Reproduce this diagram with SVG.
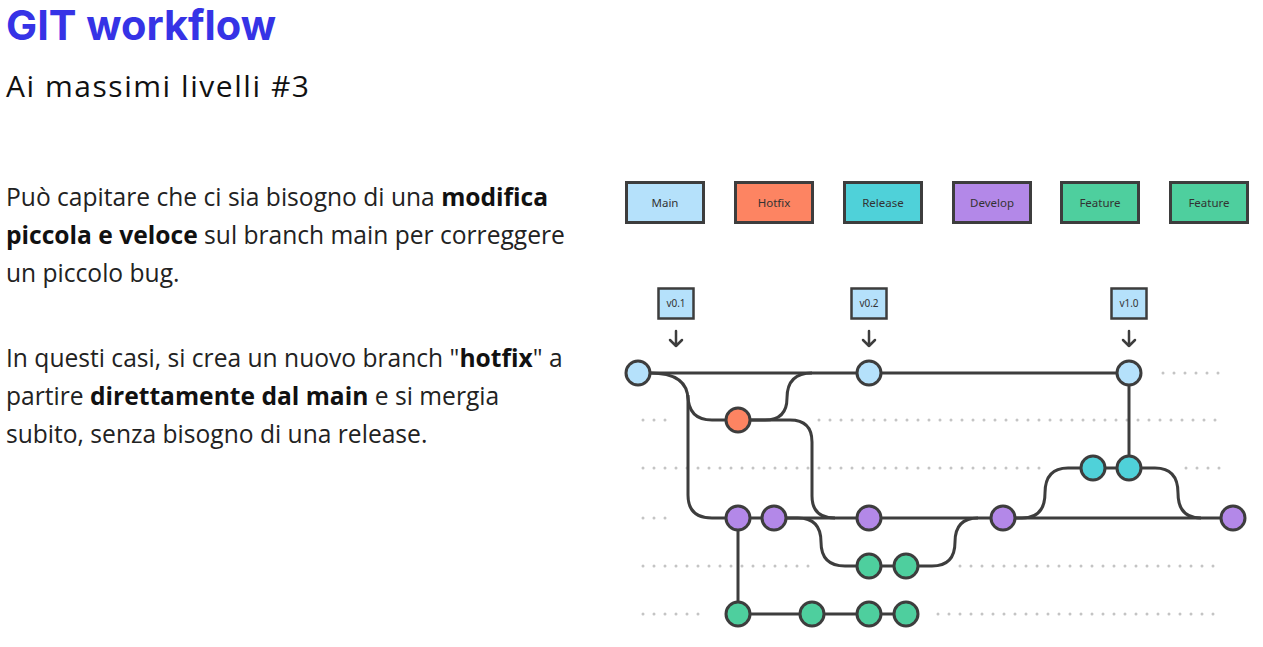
<svg xmlns="http://www.w3.org/2000/svg" width="1263" height="647" viewBox="0 0 1263 647">
  <style>
    .title { font-family: Inter, "Liberation Sans", sans-serif; font-weight: 700; font-size: 41.5px; fill: #3633e6; }
    .subtitle { font-family: "Open Sans", "Liberation Sans", sans-serif; font-size: 30px; fill: #111; }
    .body { font-family: "Open Sans", "Liberation Sans", sans-serif; font-size: 24.6px; fill: #222; }
    .body tspan.b { font-weight: 700; fill: #111; }
    .label { stroke: #3d3d3d; stroke-width: 3; }
    .label-text { font-family: "Noto Sans", "Liberation Sans", sans-serif; font-size: 11.5px; fill: #333; text-anchor: middle; }
    .tag { fill: #b5e1fb; stroke: #3d3d3d; stroke-width: 2.5; }
    .tag-text { font-family: "Noto Sans", "Liberation Sans", sans-serif; font-size: 10px; fill: #333; text-anchor: middle; }
    .edge { fill: none; stroke: #3d3d3d; stroke-width: 3; }
    .dots { fill: none; stroke: #c4c4c4; stroke-width: 3; stroke-linecap: round; stroke-dasharray: 0 11; }
    .commit { stroke: #3d3d3d; stroke-width: 3; }
    .main { fill: #b5e1fb; }
    .hotfix { fill: #fd8462; }
    .release { fill: #4fd1d9; }
    .develop { fill: #b388e8; }
    .feature { fill: #4ecf9e; }
    .arrow { fill: none; stroke: #3d3d3d; stroke-width: 2.5; stroke-linecap: round; stroke-linejoin: round; }
  </style>

  <rect width="1263" height="647" fill="#ffffff"/>

  <!-- heading -->
  <text class="title" x="6" y="40">GIT workflow</text>
  <text class="subtitle" x="6" y="97" textLength="303" lengthAdjust="spacing">Ai massimi livelli #3</text>

  <!-- description -->
  <text class="body" x="6" y="206">Può capitare che ci sia bisogno di una <tspan class="b">modifica</tspan></text>
  <text class="body" x="6" y="244"><tspan class="b">piccola e veloce</tspan> sul branch main per correggere</text>
  <text class="body" x="6" y="282">un piccolo bug.</text>
  <text class="body" x="6" y="367">In questi casi, si crea un nuovo branch "<tspan class="b">hotfix</tspan>" a</text>
  <text class="body" x="6" y="405">partire <tspan class="b">direttamente dal main</tspan> e si mergia</text>
  <text class="body" x="6" y="443">subito, senza bisogno di una release.</text>

  <!-- branch legend -->
  <g id="legend-main"><rect class="label main" x="626.5" y="182.5" width="77" height="40"/><text class="label-text" x="665" y="207">Main</text></g>
  <g id="legend-hotfix"><rect class="label hotfix" x="735.5" y="182.5" width="77" height="40"/><text class="label-text" x="774" y="207">Hotfix</text></g>
  <g id="legend-release"><rect class="label release" x="844.5" y="182.5" width="77" height="40"/><text class="label-text" x="883" y="207">Release</text></g>
  <g id="legend-develop"><rect class="label develop" x="953.5" y="182.5" width="77" height="40"/><text class="label-text" x="992" y="207">Develop</text></g>
  <g id="legend-feature-1"><rect class="label feature" x="1061.5" y="182.5" width="77" height="40"/><text class="label-text" x="1100" y="207">Feature</text></g>
  <g id="legend-feature-2"><rect class="label feature" x="1170.5" y="182.5" width="77" height="40"/><text class="label-text" x="1209" y="207">Feature</text></g>

  <!-- version tags -->
  <g id="tag-v01"><rect class="tag" x="658.5" y="288.5" width="35" height="30"/><text class="tag-text" x="676" y="307">v0.1</text><path class="arrow" d="M676 331 V346 M670 340 L676 346 L682 340"/></g>
  <g id="tag-v02"><rect class="tag" x="851.5" y="288.5" width="35" height="30"/><text class="tag-text" x="869" y="307">v0.2</text><path class="arrow" d="M869 331 V346 M863 340 L869 346 L875 340"/></g>
  <g id="tag-v10"><rect class="tag" x="1111.5" y="288.5" width="35" height="30"/><text class="tag-text" x="1129" y="307">v1.0</text><path class="arrow" d="M1129 331 V346 M1123 340 L1129 346 L1135 340"/></g>

  <!-- dotted lane guides -->
  <g id="lanes">
    <path class="dots" d="M1163 373 H1223"/>
    <path class="dots" d="M643 420 H666 M819 420 H1223"/>
    <path class="dots" d="M643 468 H1041 M1186 468 H1223"/>
    <path class="dots" d="M643 518 H676"/>
    <path class="dots" d="M643 566 H817 M960 566 H1223"/>
    <path class="dots" d="M643 614 H709 M938 614 H1223"/>
  </g>

  <!-- connectors -->
  <g id="connectors">
    <!-- main -->
    <path class="edge" d="M638 373 H1129"/>
    <!-- main to hotfix, and on to develop -->
    <path class="edge" d="M650 373 Q688 373 688 400 V495 Q688 518 712 518 H738"/>
    <path class="edge" d="M688 395 Q688 420 712 420 H738"/>
    <!-- hotfix back into main -->
    <path class="edge" d="M738 420 H765 Q787 420 787 398 Q787 373 812 373"/>
    <!-- hotfix into develop -->
    <path class="edge" d="M738 420 H790 Q812 420 812 442 V496 Q812 518 835 518"/>
    <!-- develop -->
    <path class="edge" d="M738 518 H1233"/>
    <path class="edge" d="M738 518 V614"/>
    <!-- feature 1 -->
    <path class="edge" d="M774 518 H798 Q821 518 821 542 Q821 566 845 566 H906 H932 Q955 566 955 542 Q955 518 978 518"/>
    <!-- feature 2 -->
    <path class="edge" d="M738 614 H906"/>
    <!-- release -->
    <path class="edge" d="M1003 518 H1022 Q1045 518 1045 493 Q1045 468 1068 468 H1155 Q1178 468 1178 493 Q1178 518 1201 518"/>
    <path class="edge" d="M1129 373 V468"/>
  </g>

  <!-- commits -->
  <g id="main-commits">
    <circle class="commit main" cx="638" cy="373" r="12"/>
    <circle class="commit main" cx="869" cy="373" r="12"/>
    <circle class="commit main" cx="1129" cy="373" r="12"/>
  </g>
  <g id="hotfix-commits">
    <circle class="commit hotfix" cx="738" cy="420" r="12"/>
  </g>
  <g id="release-commits">
    <circle class="commit release" cx="1093" cy="468" r="12"/>
    <circle class="commit release" cx="1129" cy="468" r="12"/>
  </g>
  <g id="develop-commits">
    <circle class="commit develop" cx="738" cy="518" r="12"/>
    <circle class="commit develop" cx="774" cy="518" r="12"/>
    <circle class="commit develop" cx="869" cy="518" r="12"/>
    <circle class="commit develop" cx="1003" cy="518" r="12"/>
    <circle class="commit develop" cx="1233" cy="518" r="12"/>
  </g>
  <g id="feature-1-commits">
    <circle class="commit feature" cx="869" cy="566" r="12"/>
    <circle class="commit feature" cx="906" cy="566" r="12"/>
  </g>
  <g id="feature-2-commits">
    <circle class="commit feature" cx="738" cy="614" r="12"/>
    <circle class="commit feature" cx="812" cy="614" r="12"/>
    <circle class="commit feature" cx="869" cy="614" r="12"/>
    <circle class="commit feature" cx="906" cy="614" r="12"/>
  </g>
</svg>
